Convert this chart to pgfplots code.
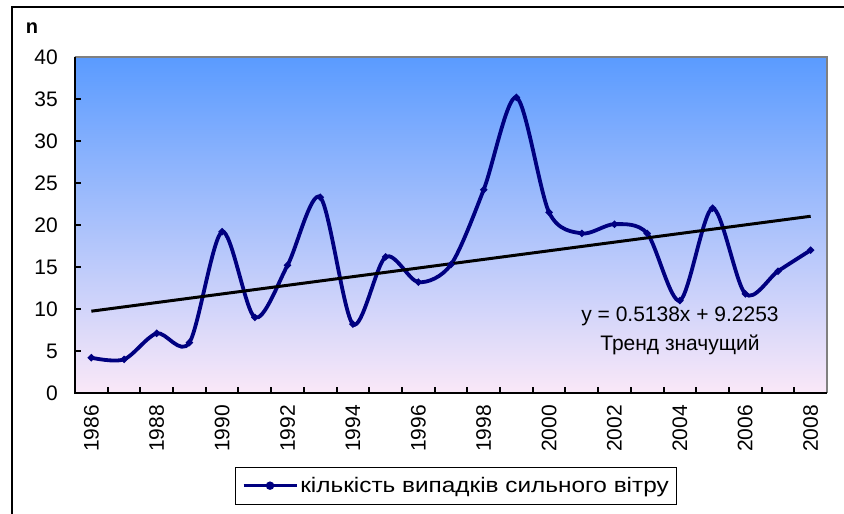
\documentclass[border=0pt]{standalone}
\usepackage{fontspec}
\setmainfont{Liberation Sans}
\usepackage{graphicx}
\usepackage{pgfplots}
\pgfplotsset{compat=1.18}
\definecolor{navyline}{RGB}{0,0,128}
\definecolor{bgtop}{RGB}{90,155,255}
\definecolor{bgmid}{RGB}{165,198,245}
\definecolor{bgbot}{RGB}{250,232,248}
\begin{document}
\begin{tikzpicture}[x=1pt,y=1pt]
\clip (0,0) rectangle (844,514);
\fill[white] (0,0) rectangle (844,514);
\draw[line width=1.6pt] (12,-10) rectangle (870,507);
\begin{axis}[
  at={(75pt,121pt)}, anchor=south west,
  scale only axis, width=752pt, height=336pt,
  xmin=-0.5, xmax=22.5, ymin=0, ymax=40,
  axis line style={draw=none},
  axis background/.style={shade, top color=bgtop, middle color=bgmid, bottom color=bgbot},
  ytick={0,5,...,40},
  minor ytick={0,5,...,40},
  xtick={0,2,...,22},
  xticklabels={1986,1988,1990,1992,1994,1996,1998,2000,2002,2004,2006,2008},
  minor xtick={-0.5,0.5,...,22.5},
  ytick pos=left, xtick pos=left,
  tick align=inside,
  major tick length=0pt,
  minor tick length=6pt,
  tick style={black, line width=2pt},
  xticklabel style={yshift=-12pt, rotate=90, anchor=east, inner sep=0pt, font=\fontsize{21}{24}\selectfont},
  yticklabel style={anchor=east, inner sep=0pt, xshift=-17pt, font=\fontsize{21}{24}\selectfont},
  /pgf/number format/assume math mode=true,
  legend style={at={(0.507,-0.22)}, anchor=north, draw=black, line width=0.8pt,
    font=\fontsize{21}{24}\selectfont, inner xsep=6pt, inner ysep=8pt},
  legend image code/.code={\draw[navyline, line width=3.5pt] (0pt,0pt) -- (53pt,0pt); \fill[navyline] (26.5pt,0pt) circle (2.2pt);},
  clip=false,
  after end axis/.code={
    \draw[gray, line width=1.8pt] (rel axis cs:0,1) -- (rel axis cs:1,1) -- (rel axis cs:1,0);
    \draw[black, line width=2.5pt] (rel axis cs:0,1) -- (rel axis cs:0,0) -- (rel axis cs:1,0);
  },
]
\addplot[navyline, line width=3.8pt, smooth, tension=0.5, mark=*, mark size=1.2pt] coordinates {
(0,4.2) (1,4.0) (2,7.1) (3,6.0) (4,19.2) (5,9.0) (6,15.2) (7,23.3) (8,8.2) (9,16.2)
(10,13.2) (11,15.3) (12,24.2) (13,35.2) (14,21.5) (15,19.0) (16,20.1) (17,19.0)
(18,11.0) (19,22.0) (20,11.8) (21,14.5) (22,17.0)
};
\addlegendentry{\scalebox{1.16}[1]{кількість випадків сильного вітру}}
\addplot[black, line width=3pt, forget plot] coordinates {(0,9.74) (22,21.04)};
\end{axis}
\node[font=\bfseries\fontsize{20}{24}\selectfont] at (32,486) {n};
\node[font=\fontsize{21}{24}\selectfont] at (680,198) {y = 0.5138x + 9.2253};
\node[font=\fontsize{21}{24}\selectfont] at (680,169) {Тренд значущий};
\end{tikzpicture}
\end{document}
